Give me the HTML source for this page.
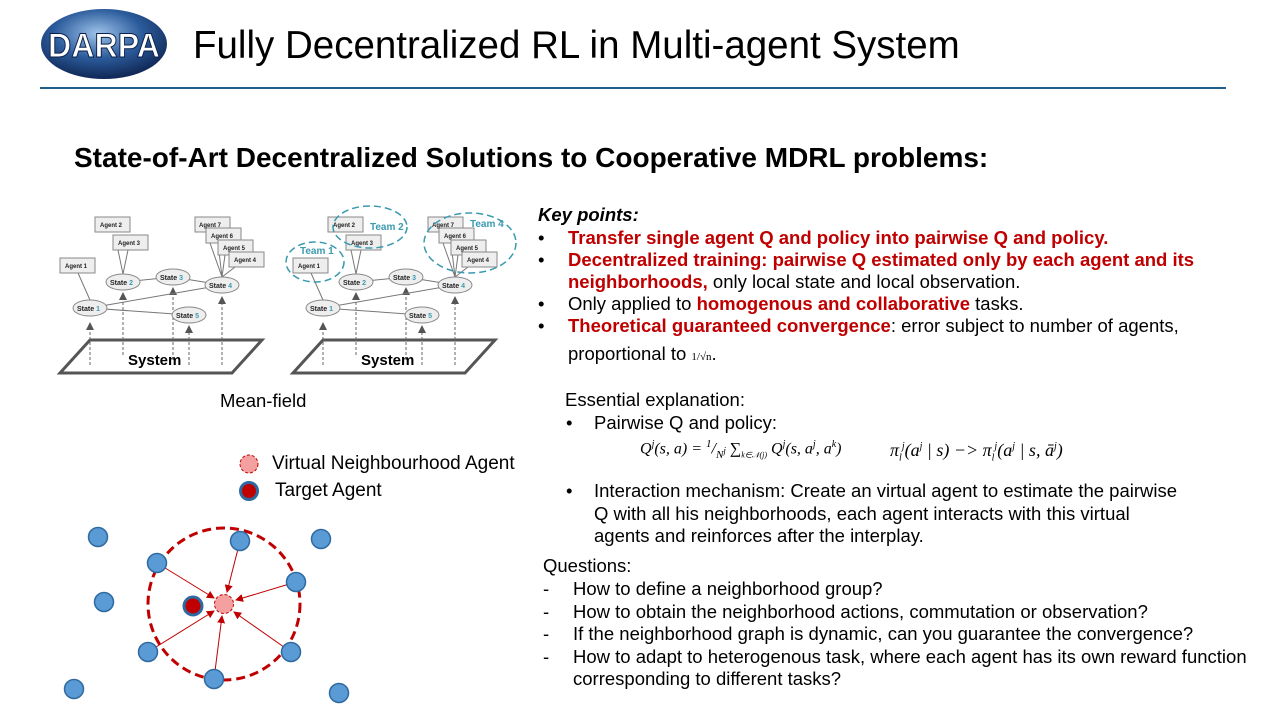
<!DOCTYPE html>
<html><head><meta charset="utf-8"><style>
body{margin:0;width:1280px;height:720px;background:#fff;overflow:hidden;position:relative;font-family:"Liberation Sans",Arial,sans-serif;color:#000}
.a{position:absolute;white-space:nowrap}
.r{color:#c00000;font-weight:bold}
.t{font-size:18.5px;line-height:22px}
</style></head><body>
<svg width="1280" height="720" style="position:absolute;left:0;top:0" font-family="Liberation Sans, Arial, sans-serif">
<defs>
<radialGradient id="g" cx="45%" cy="35%" r="70%"><stop offset="0" stop-color="#9ec3ea"/><stop offset="0.5" stop-color="#2c5c9c"/><stop offset="1" stop-color="#0b1f4a"/></radialGradient>
<marker id="ar" markerWidth="8" markerHeight="8" refX="7" refY="4" orient="auto"><path d="M0,0L8,4L0,8z" fill="#555"/></marker>
<marker id="rr" markerWidth="8" markerHeight="8" refX="7" refY="4" orient="auto"><path d="M0,0L8,4L0,8z" fill="#c00000"/></marker>
</defs>
<ellipse cx="104" cy="44" rx="63" ry="35" fill="url(#g)"/>
<text x="104" y="57" text-anchor="middle" font-size="34" font-weight="bold" fill="#fff" stroke="#0b1f4a" stroke-width="1" textLength="112" lengthAdjust="spacingAndGlyphs">DARPA</text>
<line x1="40" y1="88" x2="1226" y2="88" stroke="#1f5f8b" stroke-width="2"/>

<g id="d1" font-size="7" font-weight="bold">
<polygon points="90,340 262,340 232,373 60,373" fill="none" stroke="#555" stroke-width="3"/>
<text x="128" y="365" font-size="15">System</text>
<g stroke="#666" stroke-dasharray="3,2" marker-end="url(#ar)">
<line x1="90" y1="365" x2="90" y2="323"/><line x1="123" y1="355" x2="123" y2="293"/><line x1="173" y1="360" x2="173" y2="288"/><line x1="189" y1="365" x2="189" y2="326"/><line x1="222" y1="365" x2="222" y2="297"/>
</g>
<g stroke="#777" fill="none">
<line x1="90" y1="308" x2="222" y2="285"/><line x1="90" y1="308" x2="189" y2="315"/><line x1="123" y1="282" x2="173" y2="277"/><line x1="173" y1="277" x2="222" y2="285"/>
<line x1="78" y1="273" x2="90" y2="300"/><polyline points="118,250 123,274 128,250"/>
<line x1="210" y1="243" x2="222" y2="277"/><line x1="218" y1="243" x2="222" y2="277"/><line x1="225" y1="255" x2="222" y2="277"/><line x1="235" y1="267" x2="222" y2="277"/>
</g>
<g fill="#eee" stroke="#888">
<ellipse cx="90" cy="308" rx="17" ry="8"/><ellipse cx="123" cy="282" rx="17" ry="8"/><ellipse cx="173" cy="277" rx="17" ry="8"/><ellipse cx="222" cy="285" rx="17" ry="8"/><ellipse cx="189" cy="315" rx="17" ry="8"/>
<rect x="60" y="258" width="35" height="15"/><rect x="95" y="217" width="35" height="15"/><rect x="113" y="235" width="35" height="15"/>
<rect x="195" y="217" width="35" height="15"/><rect x="206" y="228" width="35" height="15"/><rect x="218" y="240" width="35" height="15"/><rect x="229" y="252" width="35" height="15"/>
</g>
<g fill="#222">
<text x="77" y="311">State <tspan fill="#3a9ab0">1</tspan></text><text x="110" y="285">State <tspan fill="#3a9ab0">2</tspan></text><text x="160" y="280">State <tspan fill="#3a9ab0">3</tspan></text><text x="209" y="288">State <tspan fill="#3a9ab0">4</tspan></text><text x="176" y="318">State <tspan fill="#3a9ab0">5</tspan></text>
<text x="65" y="268" font-size="6">Agent 1</text><text x="100" y="227" font-size="6">Agent 2</text><text x="118" y="245" font-size="6">Agent 3</text>
<text x="199" y="227" font-size="6">Agent 7</text><text x="211" y="238" font-size="6">Agent 6</text><text x="223" y="250" font-size="6">Agent 5</text><text x="234" y="262" font-size="6">Agent 4</text>
</g>
</g>
<use href="#d1" x="233"/>
<g fill="none" stroke="#3a9ab0" stroke-width="1.5" stroke-dasharray="7,4">
<ellipse cx="315" cy="262" rx="29" ry="20"/><ellipse cx="370" cy="227" rx="37" ry="21"/><ellipse cx="470" cy="243" rx="46" ry="30"/>
</g>
<g fill="#3a9ab0" font-size="10" font-weight="bold"><text x="300" y="254">Team 1</text><text x="370" y="230">Team 2</text><text x="470" y="227">Team 4</text></g>

<circle cx="224" cy="604" r="76" fill="none" stroke="#c00000" stroke-width="3" stroke-dasharray="9,5"/>
<g stroke="#c00000" stroke-width="1" marker-end="url(#rr)">
<line x1="157" y1="563" x2="214" y2="598"/><line x1="240" y1="541" x2="227" y2="592"/><line x1="296" y1="582" x2="236" y2="600"/><line x1="148" y1="652" x2="214" y2="611"/><line x1="214" y1="679" x2="222" y2="616"/><line x1="291" y1="652" x2="234" y2="612"/>
</g>
<g fill="#5b9bd5" stroke="#2e6aa0" stroke-width="1.5">
<circle cx="98" cy="537" r="9.5"/><circle cx="157" cy="563" r="9.5"/><circle cx="240" cy="541" r="9.5"/><circle cx="321" cy="539" r="9.5"/><circle cx="296" cy="582" r="9.5"/><circle cx="104" cy="602" r="9.5"/><circle cx="148" cy="652" r="9.5"/><circle cx="214" cy="679" r="9.5"/><circle cx="291" cy="652" r="9.5"/><circle cx="74" cy="689" r="9.5"/><circle cx="339" cy="693" r="9.5"/>
</g>
<circle cx="224" cy="604" r="9.5" fill="#f4a0a0" stroke="#c00000" stroke-dasharray="3,2"/>
<circle cx="193" cy="606" r="9" fill="#c00000" stroke="#2e6aa0" stroke-width="3"/>
<circle cx="249" cy="464" r="9" fill="#f4a0a0" stroke="#c00000" stroke-dasharray="3,2"/>
<circle cx="249" cy="491" r="8.5" fill="#c00000" stroke="#2e6aa0" stroke-width="3"/>
</svg>

<div class="a" style="left:193px;top:24px;font-size:38.5px">Fully Decentralized RL in Multi-agent System</div>
<div class="a" style="left:74px;top:142px;font-size:28px;font-weight:bold">State-of-Art Decentralized Solutions to Cooperative MDRL problems:</div>
<div class="a t" style="left:220px;top:390px">Mean-field</div>
<div class="a t" style="left:272px;top:453px;font-size:19px">Virtual Neighbourhood Agent</div>
<div class="a t" style="left:275px;top:480px;font-size:19px">Target Agent</div>

<div class="a t" style="left:538px;top:204px;font-weight:bold;font-style:italic">Key points:</div>
<div class="a t" style="left:538px;top:227px">•</div><div class="a t r" style="left:568px;top:227px">Transfer single agent Q and policy into pairwise Q and policy.</div>
<div class="a t" style="left:538px;top:249px">•</div><div class="a t" style="left:568px;top:249px"><span class="r">Decentralized training: pairwise Q estimated only by each agent and its<br>neighborhoods,</span> only local state and local observation.</div>
<div class="a t" style="left:538px;top:293px">•</div><div class="a t" style="left:568px;top:293px">Only applied to <span class="r">homogenous and collaborative</span> tasks.</div>
<div class="a t" style="left:538px;top:315px">•</div><div class="a t" style="left:568px;top:315px"><span class="r">Theoretical guaranteed convergence</span>: error subject to number of agents,</div>
<div class="a t" style="left:568px;top:343px">proportional to <span style="font-size:11px;font-family:'Liberation Serif',serif">1/√n</span>.</div>

<div class="a t" style="left:565px;top:389px">Essential explanation:</div>
<div class="a t" style="left:566px;top:412px">•</div><div class="a t" style="left:594px;top:412px">Pairwise Q and policy:</div>
<div class="a" style="left:640px;top:438px;font-family:'Liberation Serif',serif;font-style:italic;font-size:16px">Q<sup style="font-size:10px">j</sup>(s, a) = <sup style="font-size:11px">1</sup>/<sub style="font-size:11px">N<sup>j</sup></sub> ∑<sub style="font-size:8px">k∈𝒩(j)</sub> Q<sup style="font-size:10px">j</sup>(s, a<sup style="font-size:10px">j</sup>, a<sup style="font-size:10px">k</sup>)</div>
<div class="a" style="left:890px;top:440px;font-family:'Liberation Serif',serif;font-style:italic;font-size:18px">π<sub style="font-size:10px">l</sub><sup style="font-size:10px">j</sup>(a<sup style="font-size:10px">j</sup> | s) −&gt; π<sub style="font-size:10px">l</sub><sup style="font-size:10px">j</sup>(a<sup style="font-size:10px">j</sup> | s, ā<sup style="font-size:10px">j</sup>)</div>
<div class="a t" style="left:566px;top:480px">•</div><div class="a t" style="left:594px;top:480px;line-height:22.5px">Interaction mechanism: Create an virtual agent to estimate the pairwise<br>Q with all his neighborhoods, each agent interacts with this virtual<br>agents and reinforces after the interplay.</div>

<div class="a t" style="left:543px;top:555px">Questions:</div>
<div class="a t" style="left:543px;top:578px;line-height:22.6px">-<br>-<br>-<br>-</div>
<div class="a t" style="left:573px;top:578px;line-height:22.6px">How to define a neighborhood group?<br>How to obtain the neighborhood actions, commutation or observation?<br>If the neighborhood graph is dynamic, can you guarantee the convergence?<br>How to adapt to heterogenous task, where each agent has its own reward function<br>corresponding to different tasks?</div>
</body></html>
